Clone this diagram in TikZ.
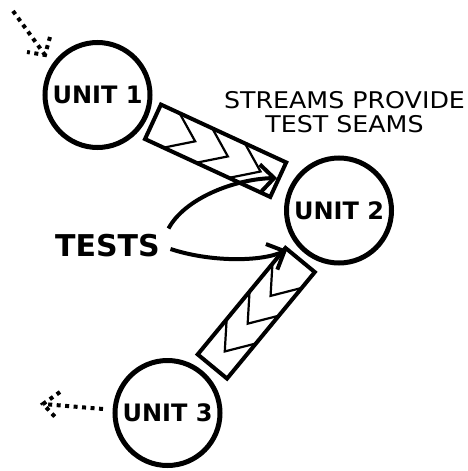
\documentclass[tikz,border=0pt]{standalone}
\usepackage{fontspec}
\setmainfont{DejaVu Sans}
\usetikzlibrary{arrows.meta}
\tikzset{
  unit/.style={circle, draw, line width=5pt, minimum size=105pt, inner sep=0pt,
    font=\bfseries\fontsize{24}{24}\selectfont},
  flow/.style={line width=4pt, -{Straight Barb[length=14pt,width=28pt,line width=4pt]}},
  dotline/.style={line width=4pt, dash pattern=on 4pt off 4.5pt},
  streambox/.pic={
    \draw[line width=4pt] (-69,-19) rectangle (69,19);
    \foreach \e in {-48.5,-12.5,23.5}
      \draw[line width=2.2pt, line join=miter] (\e,-19) -- (\e+26,0) -- (\e,19);
  }
}
\begin{document}
\begin{tikzpicture}[x=1pt,y=-1pt]
  \fill[white] (0,0) rectangle (468,471);
  \useasboundingbox (0,0) rectangle (468,471);

  % units
  \node[unit] (u1) at (97.5,95) {UNIT 1};
  \node[unit] (u2) at (339,210.5) {UNIT 2};
  \node[unit] (u3) at (167.5,413) {UNIT 3};

  % streams
  \pic[rotate=-24.8] at (215.6,150.75) {streambox};
  \pic[rotate=230.5] at (256.25,313.25) {streambox};

  % labels
  \node[font=\bfseries\fontsize{30}{30}\selectfont, inner sep=0pt] (tests) at (107.5,246) {TESTS};
  \node[font=\fontsize{23}{23.5}\selectfont, align=center, inner sep=0pt, xscale=1.1] (seams) at (344.5,112)
    {STREAMS PROVIDE\\TEST SEAMS};

  % test arrows
  \coordinate (t1s) at (168.5,228.5);
  \coordinate (t1e) at (277,178);
  \coordinate (t2s) at (170.5,249);
  \coordinate (t2e) at (287,250);
  \draw[flow] (t1s) .. controls (185,198) and (235,179) .. (t1e);
  \draw[flow] (t2s) .. controls (210,262) and (260,262) .. (t2e);

  % dotted arrows
  \coordinate (d1s) at (13,11);
  \coordinate (d1t) at (45,55);
  \coordinate (d1a) at (50,37);
  \coordinate (d1b) at (27,52);
  \draw[dotline] (d1s) -- (d1t);
  \draw[dotline] (d1a) -- (d1t) -- (d1b);

  \coordinate (d3s) at (103,409);
  \coordinate (d3t) at (43,404);
  \coordinate (d3a) at (60,392);
  \coordinate (d3b) at (57,419);
  \draw[dotline] (d3s) -- (d3t);
  \draw[dotline] (d3a) -- (d3t) -- (d3b);
\end{tikzpicture}
\end{document}
